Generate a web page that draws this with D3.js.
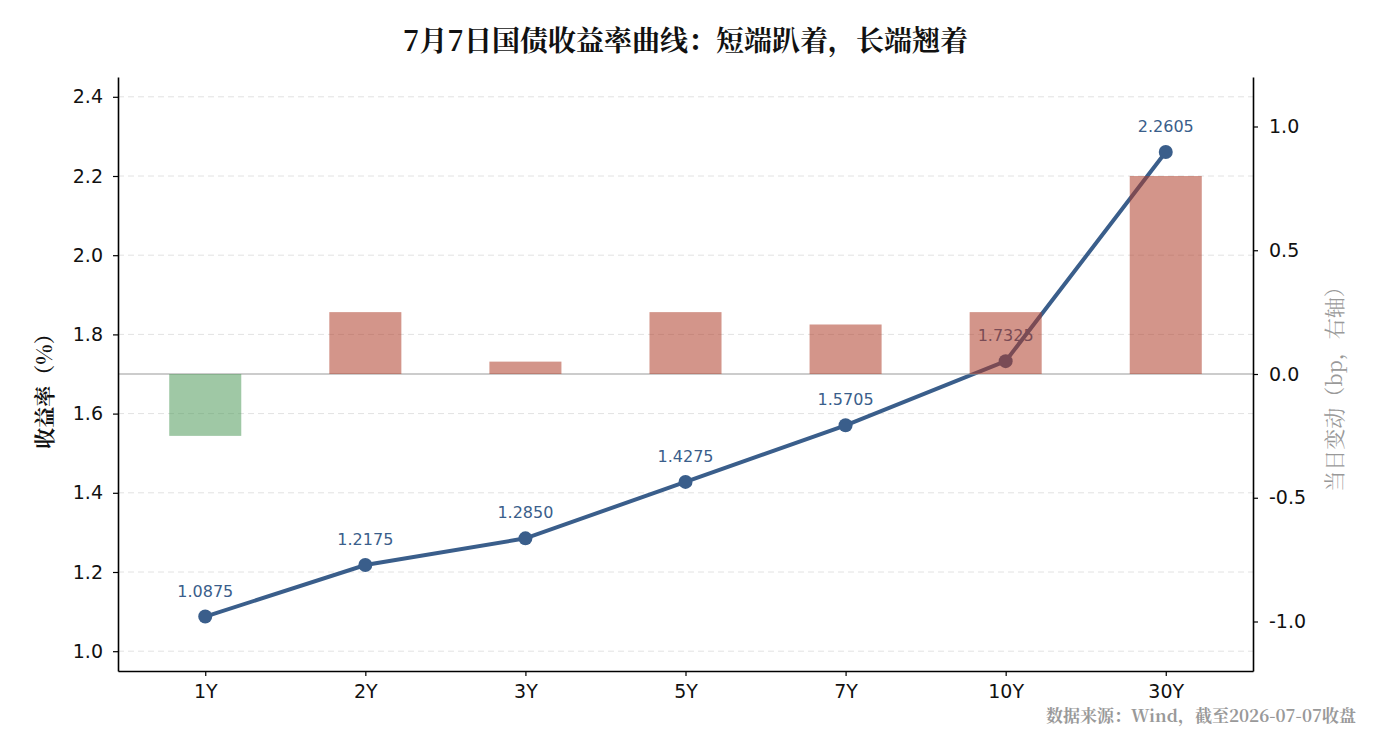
<!DOCTYPE html>
<html>
<head>
<meta charset="utf-8">
<script src="https://cdn.jsdelivr.net/npm/d3@7"></script>
<style>
body { margin: 0; background: #fff; }
text { font-family: "DejaVu Sans", sans-serif; }
.cjk { font-family: "Noto Serif CJK SC", "Noto Sans CJK SC", serif; }
</style>
</head>
<body>
<script>
// tenors, yields (%), daily change (bp)
var tenors = ["1Y", "2Y", "3Y", "5Y", "7Y", "10Y", "30Y"];
var yields = [1.0875, 1.2175, 1.2850, 1.4275, 1.5705, 1.7325, 2.2605];
var changes = [-0.25, 0.25, 0.05, 0.25, 0.20, 0.25, 0.80];
var leftTicks = [1.0, 1.2, 1.4, 1.6, 1.8, 2.0, 2.2, 2.4];
var rightTicks = [-1.0, -0.5, 0.0, 0.5, 1.0];

var W = 1400, H = 744;
var m = {left: 118, right: 147, top: 77, bottom: 73};
var iw = W - m.left - m.right, ih = H - m.top - m.bottom;

var svg = d3.select("body").append("svg")
  .attr("width", W)
  .attr("height", H);

var g = svg.append("g").attr("transform", `translate(${m.left},${m.top})`);

// x positions like matplotlib xlim -0.545 .. 6.545
var x = d3.scaleLinear().domain([-0.545, 6.545]).range([0, iw]);
var yL = d3.scaleLinear().domain([0.95, 2.45]).range([ih, 0]);
var yR = d3.scaleLinear().domain([-1.2, 1.2]).range([ih, 0]);

var lineColor = "#3a5e8b";

// grid
g.append("g")
  .selectAll("line")
  .data(leftTicks)
  .join("line")
  .attr("x1", 0).attr("x2", iw)
  .attr("y1", d => yL(d)).attr("y2", d => yL(d))
  .attr("stroke", "#e2e2e2")
  .attr("stroke-width", 1)
  .attr("stroke-dasharray", "6,4");

// yield line
var line = d3.line()
  .x((d, i) => x(i))
  .y(d => yL(d));

g.append("path")
  .datum(yields)
  .attr("d", line)
  .attr("fill", "none")
  .attr("stroke", lineColor)
  .attr("stroke-width", 4);

g.append("g")
  .selectAll("circle")
  .data(yields)
  .join("circle")
  .attr("cx", (d, i) => x(i))
  .attr("cy", d => yL(d))
  .attr("r", 7)
  .attr("fill", lineColor);

g.append("g")
  .selectAll("text")
  .data(yields)
  .join("text")
  .attr("x", (d, i) => x(i))
  .attr("y", d => yL(d) - 20)
  .attr("text-anchor", "middle")
  .attr("font-size", 16)
  .attr("fill", lineColor)
  .text(d => d.toFixed(4));

// zero line (right axis)
g.append("line")
  .attr("x1", 0).attr("x2", iw)
  .attr("y1", yR(0)).attr("y2", yR(0))
  .attr("stroke", "#999")
  .attr("stroke-width", 1);

// change bars (on top, semi-transparent)
var bw = x(0.45) - x(0);
g.append("g")
  .selectAll("rect")
  .data(changes)
  .join("rect")
  .attr("x", (d, i) => x(i) - bw / 2)
  .attr("y", d => yR(Math.max(0, d)))
  .attr("width", bw)
  .attr("height", d => Math.abs(yR(d) - yR(0)))
  .attr("fill", d => d < 0 ? "#4f9a5a" : "#ae3d28")
  .attr("fill-opacity", 0.546);

// axes
var axL = g.append("g")
  .call(d3.axisLeft(yL).tickValues(leftTicks).tickFormat(d3.format(".1f")).tickSize(5).tickSizeOuter(0).tickPadding(10));
var axR = g.append("g")
  .attr("transform", `translate(${iw},0)`)
  .call(d3.axisRight(yR).tickValues(rightTicks).tickFormat(d3.format(".1f")).tickSize(5).tickSizeOuter(0).tickPadding(11));
var axB = g.append("g")
  .attr("transform", `translate(0,${ih})`)
  .call(d3.axisBottom(x).tickValues(d3.range(tenors.length)).tickFormat(i => tenors[i]).tickSize(5).tickSizeOuter(0).tickPadding(9));

[axL, axR, axB].forEach(a => {
  a.select(".domain").attr("stroke", "#000").attr("stroke-width", 1.6);
  a.selectAll(".tick line").attr("stroke", "#000").attr("stroke-width", 1.2);
  a.selectAll(".tick text").attr("font-size", 19).attr("fill", "#111").attr("font-family", "DejaVu Sans");
});
axR.selectAll(".tick text").text(d => d3.format(".1f")(d).replace("−", "-"));

// titles
svg.append("text")
  .attr("class", "cjk")
  .attr("x", m.left + iw / 2)
  .attr("y", 51)
  .attr("text-anchor", "middle")
  .attr("font-size", 28)
  .attr("font-weight", "bold")
  .attr("fill", "#111")
  .text("7月7日国债收益率曲线：短端趴着，长端翘着");

svg.append("text")
  .attr("class", "cjk")
  .attr("transform", `translate(52,${m.top + ih / 2 + 12}) rotate(-90)`)
  .attr("text-anchor", "middle")
  .attr("font-size", 21)
  .attr("font-weight", "bold")
  .attr("fill", "#111")
  .text("收益率（%）");

svg.append("text")
  .attr("class", "cjk")
  .attr("transform", `translate(1342,${m.top + ih / 2 + 10}) rotate(-90)`)
  .attr("text-anchor", "middle")
  .attr("font-size", 21)
  .attr("fill", "#999")
  .text("当日变动（bp，右轴）");

svg.append("text")
  .attr("class", "cjk")
  .attr("x", 1356)
  .attr("y", 722)
  .attr("text-anchor", "end")
  .attr("font-size", 17)
  .attr("font-weight", "bold")
  .attr("fill", "#999")
  .text("数据来源：Wind，截至2026-07-07收盘");
</script>
</body>
</html>
